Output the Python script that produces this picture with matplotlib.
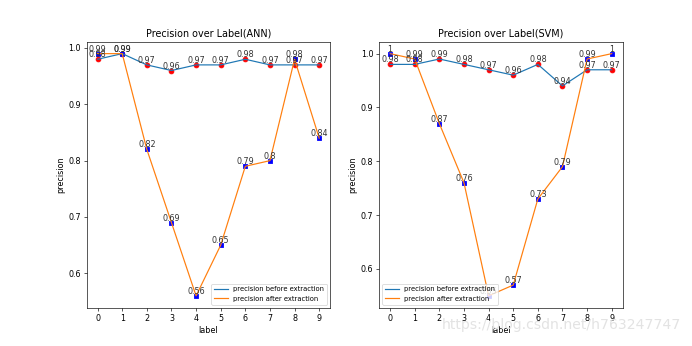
import numpy as np
import matplotlib
matplotlib.use('Agg')
import matplotlib.pyplot as plt

labels = np.arange(10)

ann_before = [0.98, 0.99, 0.97, 0.96, 0.97, 0.97, 0.98, 0.97, 0.97, 0.97]
ann_after = [0.99, 0.99, 0.82, 0.69, 0.56, 0.65, 0.79, 0.8, 0.98, 0.84]

svm_before = [0.98, 0.98, 0.99, 0.98, 0.97, 0.96, 0.98, 0.94, 0.97, 0.97]
svm_after = [1, 0.99, 0.87, 0.76, 0.55, 0.57, 0.73, 0.79, 0.99, 1]


def draw(before, after, title, loc):
    plt.plot(labels, before, label = 'precision before extraction')
    plt.plot(labels, after, label = 'precision after extraction')
    plt.scatter(labels, before, c = 'r')
    plt.scatter(labels, after, c = 'b', marker = 's')
    for x, y in zip(labels, before):
        plt.text(x, y, '%g' % y, ha = 'center', va = 'bottom', fontsize = 10, color = '#333333')
    for x, y in zip(labels, after):
        plt.text(x, y, '%g' % y, ha = 'center', va = 'bottom', fontsize = 10, color = '#333333')
    plt.xticks(labels)
    plt.xlabel('label')
    plt.ylabel('precision')
    plt.title(title)
    plt.legend(loc = loc, fontsize = 8.5)


fig = plt.figure(figsize = (12, 6))

plt.subplot(121)
draw(ann_before, ann_after, 'Precision over Label(ANN)', 'lower right')

plt.subplot(122)
draw(svm_before, svm_after, 'Precision over Label(SVM)', 'lower left')

fig.text(0.985, 0.04, 'https://blog.csdn.net/h763247747', ha = 'right', va = 'bottom',
         fontsize = 17.5, color = '#e3e3e3')

plt.savefig('out.png', dpi = 692 / 12)
